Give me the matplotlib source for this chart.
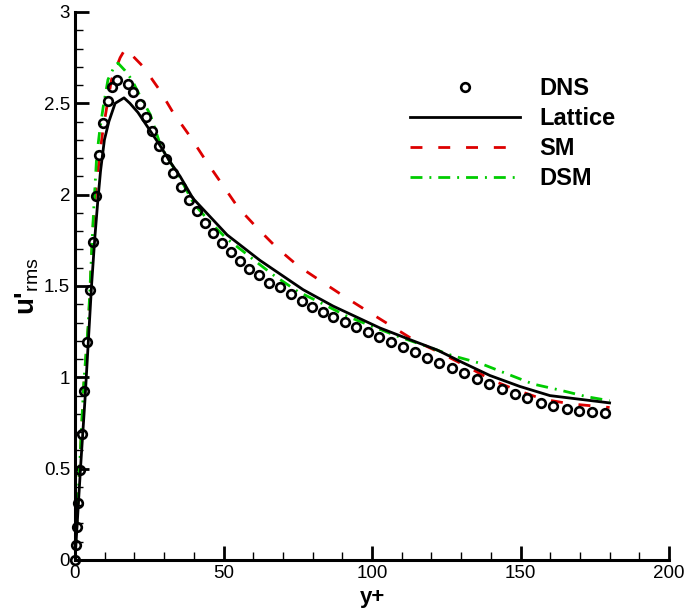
import numpy as np
import matplotlib
matplotlib.use('Agg')
from matplotlib import pyplot as plt

plt.rcParams['font.family'] = ['Liberation Sans', 'DejaVu Sans']
plt.rcParams['mathtext.fontset'] = 'custom'
plt.rcParams['mathtext.rm'] = 'Liberation Sans'
plt.rcParams['mathtext.bf'] = 'Liberation Sans:bold'

# DNS reference points
dns_y = [0, 0.34, 0.67, 1.01, 1.68, 2.36, 3.03, 4.04, 5.05, 6.06, 7.07, 8.08, 9.43,
         11.1, 12.5, 14.1, 17.8, 19.5, 21.9, 23.9, 25.9, 28.3, 30.6, 33.0, 35.7, 38.4,
         41.1, 43.8, 46.5, 49.5, 52.5, 55.6, 58.6, 62.0, 65.3, 69.0, 72.7, 76.4, 79.8,
         83.5, 86.9, 90.9, 94.6, 98.7, 102.4, 106.4, 110.4, 114.5, 118.5, 122.6, 126.9,
         131.0, 135.4, 139.4, 143.8, 148.1, 152.2, 156.9, 160.9, 165.7, 169.7, 174.1, 178.5]
dns_u = [0, 0.082, 0.181, 0.312, 0.493, 0.690, 0.925, 1.193, 1.478, 1.741, 1.992, 2.217,
         2.392, 2.512, 2.589, 2.627, 2.605, 2.562, 2.496, 2.425, 2.348, 2.266, 2.195, 2.118,
         2.042, 1.970, 1.910, 1.845, 1.790, 1.735, 1.686, 1.637, 1.593, 1.560, 1.516, 1.494,
         1.456, 1.418, 1.385, 1.357, 1.330, 1.303, 1.275, 1.248, 1.221, 1.193, 1.166, 1.138,
         1.106, 1.078, 1.051, 1.024, 0.991, 0.963, 0.936, 0.909, 0.887, 0.859, 0.843, 0.826,
         0.816, 0.810, 0.805]

# Lattice
lat_y = [0, 1, 2, 3.37, 4.5, 5.6, 6.7, 7.7, 8.6, 9.9, 11.4, 13.5, 16.5, 18.5, 21.2, 25.3,
         28.6, 32, 35.4, 39.7, 51.2, 62.3, 76.8, 86.9, 102.7, 113.8, 121.9, 130.6, 139.7,
         149.8, 159.9, 180]
lat_u = [0, 0.27, 0.54, 0.88, 1.2, 1.51, 1.77, 1.97, 2.13, 2.30, 2.40, 2.50, 2.53, 2.50,
         2.45, 2.35, 2.27, 2.18, 2.10, 1.98, 1.78, 1.64, 1.48, 1.39, 1.27, 1.20, 1.15, 1.08,
         1.01, 0.95, 0.90, 0.86]

# SM
sm_y = [0, 1, 2, 3, 4.5, 5.3, 6.2, 7.1, 8.2, 9.3, 10.9, 12.3, 15.2, 17, 23, 28.6, 33,
        38.7, 44.3, 49.4, 54.9, 61.2, 67.9, 75.1, 82.5, 90.9, 98.7, 106.6, 114.5, 123.5,
        131.9, 140.3, 148.7, 157.6, 167.2, 176.8, 180]
sm_u = [0, 0.32, 0.64, 0.96, 1.28, 1.56, 1.86, 2.04, 2.2, 2.34, 2.5, 2.63, 2.75, 2.80,
        2.70, 2.57, 2.45, 2.32, 2.18, 2.06, 1.93, 1.82, 1.71, 1.61, 1.53, 1.44, 1.36, 1.28,
        1.20, 1.13, 1.06, 0.985, 0.93, 0.88, 0.854, 0.84, 0.835]

# DSM
dsm_y = [0, 1, 2, 3, 4.5, 5.3, 6.2, 7.3, 8.4, 9.5, 11.1, 13.5, 14.5, 16.8, 19.1, 21.9,
         25.3, 29, 35.4, 40, 45.5, 51, 56.6, 61.2, 66.8, 75, 82.5, 91.5, 100.4, 109.4,
         118.4, 126.8, 136.4, 145.3, 154.3, 163.3, 172.3, 180]
dsm_u = [0, 0.33, 0.66, 0.98, 1.3, 1.58, 1.89, 2.21, 2.36, 2.48, 2.63, 2.71, 2.72, 2.68,
         2.63, 2.54, 2.44, 2.26, 2.09, 1.95, 1.85, 1.76, 1.69, 1.63, 1.56, 1.47, 1.41,
         1.335, 1.277, 1.22, 1.17, 1.12, 1.077, 1.02, 0.963, 0.93, 0.894, 0.872]

fig = plt.figure(figsize=(6.91, 6.13), dpi=100)
ax = fig.add_axes([75/691, 1-560/613, 594/691, 548/613])

ax.plot(dns_y, dns_u, 'o', mfc='none', mec='black', ms=6.2, mew=1.9, label='DNS', clip_on=False, zorder=4)
ax.plot(lat_y, lat_u, '-', color='black', lw=2, label='Lattice', zorder=3)
ax.plot(sm_y, sm_u, color='#dd0000', lw=2, dashes=(4.3, 5.7), label='SM', zorder=2)
ax.plot(dsm_y, dsm_u, color='#00cc00', lw=2, dashes=(4.3, 2.5, 0.7, 2.5), label='DSM', zorder=2)

ax.set_xlim(0, 200)
ax.set_ylim(0, 3)
ax.set_xticks([0, 50, 100, 150, 200])
ax.set_xticks(np.arange(0, 201, 10), minor=True)
ax.set_yticks([0, 0.5, 1, 1.5, 2, 2.5, 3])
ax.set_yticklabels(['0', '0.5', '1', '1.5', '2', '2.5', '3'])
ax.set_yticks(np.arange(0, 3.01, 0.1), minor=True)
ax.tick_params(which='both', direction='in', labelsize=13.5, width=1.5)
ax.tick_params(which='major', length=10, width=2)
ax.tick_params(which='minor', length=6, width=1)
ax.spines['top'].set_visible(False)
ax.spines['right'].set_visible(False)
ax.spines['left'].set_linewidth(2.2)
ax.spines['bottom'].set_linewidth(2.2)

ax.set_xlabel('y+', fontsize=16, fontweight='bold', labelpad=4)
ax.set_ylabel(r"u'$_{\mathrm{rms}}$", fontsize=20, fontweight='bold', labelpad=2)

leg = ax.legend(loc='upper left', bbox_to_anchor=((410-75)/594, (560-77)/548),
                frameon=False, numpoints=1, handlelength=4.66, handletextpad=0.8,
                labelspacing=0.3, borderpad=0, borderaxespad=0,
                prop={'size': 17, 'weight': 'bold'})

plt.savefig('out.png', dpi=100)
